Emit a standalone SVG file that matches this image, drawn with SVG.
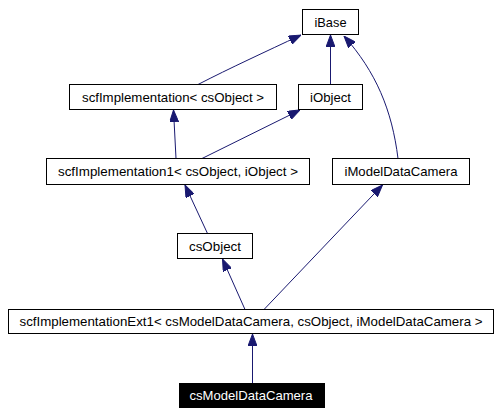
<svg xmlns="http://www.w3.org/2000/svg" width="503" height="415" viewBox="0 0 503 415">
<style>
.box rect{fill:#fff;stroke:#000;stroke-width:1}
.box text{font-family:"Liberation Sans",Arial,sans-serif;font-size:13px;fill:#000;text-anchor:middle}
.cur rect{fill:#000;stroke:#000}
.cur text{fill:#fff}
.edge{fill:none;stroke:#191970;stroke-width:1;marker-end:url(#arr)}
</style>
<defs>
<marker id="arr" viewBox="0 0 12 9" refX="12" refY="4.5" markerWidth="12" markerHeight="9" markerUnits="userSpaceOnUse" orient="auto">
<path d="M0,0 L12,4.5 L0,9 z" fill="#191970" stroke="#191970" stroke-width="1"/>
</marker>
</defs>
<rect width="503" height="415" fill="#fff"/>
<g id="connectors">
<path class="edge" d="M198,84.5 C230,68 265,52 301,35"/>
<path class="edge" d="M330.5,84.5 L330.5,35"/>
<path class="edge" d="M398,158.5 C392,110 376,72 344,36"/>
<path class="edge" d="M176,158.5 L173.5,110"/>
<path class="edge" d="M202,158.5 L300,110"/>
<path class="edge" d="M207.5,233.5 L185,185"/>
<path class="edge" d="M245,309.5 L222.5,259"/>
<path class="edge" d="M264,309.5 L382.5,185"/>
<path class="edge" d="M252.5,383 L252.5,334"/>
</g>
<g id="iBase" class="box"><rect x="302.5" y="9.5" width="56" height="25"/><text x="330.5" y="26.5" textLength="32" lengthAdjust="spacingAndGlyphs">iBase</text></g>
<g id="scfImplementation" class="box"><rect x="69.5" y="84.5" width="207" height="25"/><text x="173" y="101.5" textLength="182" lengthAdjust="spacingAndGlyphs">scfImplementation&lt; csObject &gt;</text></g>
<g id="iObject" class="box"><rect x="298.5" y="84.5" width="64" height="25"/><text x="330.5" y="101.5" textLength="41" lengthAdjust="spacingAndGlyphs">iObject</text></g>
<g id="scfImplementation1" class="box"><rect x="46.5" y="158.5" width="263" height="26"/><text x="178" y="176" textLength="240" lengthAdjust="spacingAndGlyphs">scfImplementation1&lt; csObject, iObject &gt;</text></g>
<g id="iModelDataCamera" class="box"><rect x="332.5" y="158.5" width="137" height="26"/><text x="401" y="176" textLength="113" lengthAdjust="spacingAndGlyphs">iModelDataCamera</text></g>
<g id="csObject" class="box"><rect x="177.5" y="233.5" width="75" height="25"/><text x="215" y="250.5" textLength="52" lengthAdjust="spacingAndGlyphs">csObject</text></g>
<g id="scfImplementationExt1" class="box"><rect x="8.5" y="309.5" width="485" height="24"/><text x="251" y="326" textLength="463" lengthAdjust="spacingAndGlyphs">scfImplementationExt1&lt; csModelDataCamera, csObject, iModelDataCamera &gt;</text></g>
<g id="csModelDataCamera" class="box cur"><rect x="179.5" y="383.5" width="145" height="24"/><text x="251" y="400" textLength="123" lengthAdjust="spacingAndGlyphs">csModelDataCamera</text></g>
</svg>
